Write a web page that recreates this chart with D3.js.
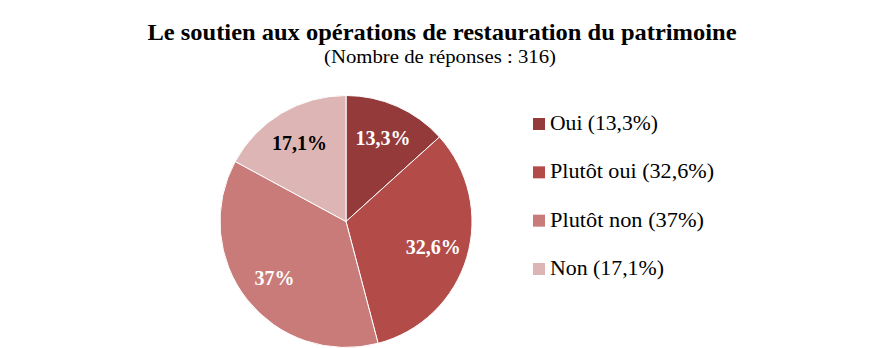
<!DOCTYPE html>
<html><head><meta charset="utf-8">
<script src="https://cdn.jsdelivr.net/npm/d3@7"></script>
<style>
body{margin:0;background:#fff;}
svg{display:block;font-family:"Liberation Serif","DejaVu Serif",serif;}
</style></head>
<body><svg id="c" width="884" height="348"></svg>
<script>
const categories = ["Oui", "Plutôt oui", "Plutôt non", "Non"];
const values = [13.3, 32.6, 37, 17.1];
const valueLabels = ["13,3%", "32,6%", "37%", "17,1%"];
const legendLabels = ["Oui (13,3%)", "Plutôt oui (32,6%)", "Plutôt non (37%)", "Non (17,1%)"];
const legendWidths = [108, 164, 154, 114];
const colors = ["#943a3b", "#b34b49", "#c97b79", "#ddb5b4"];
const labelColors = ["#fff", "#fff", "#fff", "#000"];

const svg = d3.select("#c");

svg.append("text").attr("x", 442).attr("y", 40).attr("text-anchor", "middle")
  .attr("font-size", 24).attr("font-weight", "bold").attr("fill", "#000")
  .attr("textLength", 589).attr("lengthAdjust", "spacingAndGlyphs")
  .text("Le soutien aux opérations de restauration du patrimoine");
svg.append("text").attr("x", 440).attr("y", 63).attr("text-anchor", "middle")
  .attr("font-size", 18).attr("fill", "#000")
  .attr("textLength", 232).attr("lengthAdjust", "spacingAndGlyphs")
  .text("(Nombre de réponses : 316)");

const cx = 346, cy = 221.5, r = 126;
const pie = d3.pie().sort(null).value(d => d)(values);
const arc = d3.arc().innerRadius(0).outerRadius(r);
const labelArc = d3.arc().innerRadius(91).outerRadius(91);
const g = svg.append("g").attr("transform", `translate(${cx},${cy})`);

g.selectAll("path").data(pie).join("path")
  .attr("d", arc).attr("fill", (d, i) => colors[i])
  .attr("stroke", "#fff").attr("stroke-width", 1);

g.selectAll("text").data(pie).join("text")
  .attr("transform", d => `translate(${labelArc.centroid(d)})`)
  .attr("text-anchor", "middle").attr("dy", "0.35em")
  .attr("font-size", 20).attr("font-weight", "bold")
  .attr("fill", (d, i) => labelColors[i])
  .text((d, i) => valueLabels[i]);

const y = d3.scalePoint().domain(categories).range([124, 269]);
const leg = svg.append("g");
leg.selectAll("rect").data(categories).join("rect")
  .attr("x", 533).attr("y", d => y(d) - 6).attr("width", 12).attr("height", 12)
  .attr("fill", (d, i) => colors[i]);
leg.selectAll("text").data(categories).join("text")
  .attr("x", 550).attr("y", d => y(d) + 6)
  .attr("font-size", 21).attr("fill", "#000")
  .attr("textLength", (d, i) => legendWidths[i]).attr("lengthAdjust", "spacingAndGlyphs")
  .text((d, i) => legendLabels[i]);
</script></body></html>
